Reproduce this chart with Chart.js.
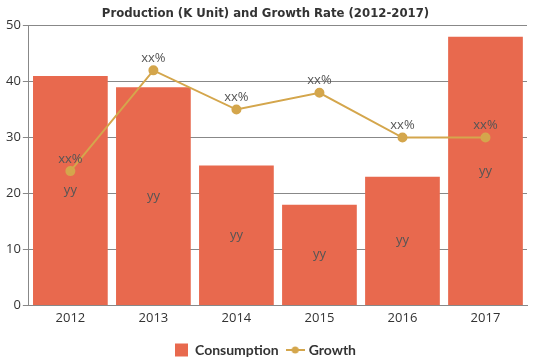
<!DOCTYPE html>
<html><head><meta charset="utf-8">
<script src="https://cdn.jsdelivr.net/npm/chart.js"></script>
<style>html,body{margin:0;padding:0;background:#fff}#w{width:539px;height:359px}</style>
</head><body><div id="w"><canvas id="c"></canvas></div>
<script>
const categories = ['2012','2013','2014','2015','2016','2017'];
const consumption = [41, 39, 25, 18, 23, 48];
const growth = [24, 42, 35, 38, 30, 30];
const barLabels = ['yy','yy','yy','yy','yy','yy'];
const lineLabels = ['xx%','xx%','xx%','xx%','xx%','xx%'];
const yTicks = [0,10,20,30,40,50];

const BAR = '#E8694E', LINE = '#D4A64C';

const lineIcon = document.createElement('canvas');
lineIcon.width = 19; lineIcon.height = 10;
(function(){
  const g = lineIcon.getContext('2d');
  g.strokeStyle = LINE; g.lineWidth = 2;
  g.beginPath(); g.moveTo(0,5); g.lineTo(19,5); g.stroke();
  g.fillStyle = LINE; g.beginPath(); g.arc(9.5,5,3.5,0,Math.PI*2); g.fill();
})();

const labelPlugin = {
  id:'lbl',
  afterDatasetsDraw(chart){
    const ctx = chart.ctx;
    ctx.save();
    ctx.font = '13px "Open Sans", sans-serif';
    ctx.fillStyle = '#555';
    ctx.textAlign = 'center';
    ctx.textBaseline = 'middle';
    const mb = chart.getDatasetMeta(1);
    mb.data.forEach((el,i)=>{
      ctx.fillText(barLabels[i], el.x, (el.y + el.base)/2);
    });
    const ml = chart.getDatasetMeta(0);
    ml.data.forEach((el,i)=>{
      ctx.fillText(lineLabels[i], el.x, el.y - 12);
    });
    ctx.restore();
  }
};

new Chart(document.getElementById('c'), {
  data:{
    labels: categories,
    datasets:[
      {type:'line', label:'Growth', data: growth, borderColor:LINE, backgroundColor:LINE,
       borderWidth:2, pointRadius:4, pointHoverRadius:4, tension:0, order:0},
      {type:'bar', label:'Consumption', data: consumption, backgroundColor:BAR,
       barPercentage:0.9, categoryPercentage:1.0, order:1}
    ]
  },
  options:{
    responsive:true, maintainAspectRatio:false, animation:false,
    layout:{padding:{left:4,right:12,top:1,bottom:-8}},
    plugins:{
      title:{display:true, text:'Production (K Unit) and Growth Rate (2012-2017)',
        font:{family:'"DejaVu Sans Condensed", sans-serif', size:13, weight:'bold'}, color:'#333',
        padding:{top:5,bottom:4}},
      legend:{position:'bottom',
        labels:{font:{family:'Lato, sans-serif', size:14, weight:'bold'}, color:'#333', padding:10, usePointStyle:true, boxWidth:13, boxHeight:13,
          generateLabels(chart){
            return [
              {text:'Consumption', fillStyle:BAR, strokeStyle:BAR, lineWidth:0, pointStyle:'rect', datasetIndex:1, fontColor:'#333'},
              {text:'Growth', fillStyle:LINE, strokeStyle:LINE, lineWidth:0, pointStyle:lineIcon, datasetIndex:0, fontColor:'#333'}
            ];
          }}},
      tooltip:{enabled:false}
    },
    scales:{
      x:{grid:{display:false}, border:{color:'#888'}, afterFit(s){ s.height += 10; },
        ticks:{color:'#333', padding:-3, font:{family:'"Open Sans", sans-serif', size:13}}},
      y:{min:0, max:50, afterBuildTicks(s){s.ticks = yTicks.map(v=>({value:v}));},
        grid:{color:'#888', tickLength:6}, border:{color:'#888'},
        ticks:{color:'#333', font:{family:'"Open Sans", sans-serif', size:13}, padding:2}}
    }
  },
  plugins:[labelPlugin]
});
</script></body></html>
